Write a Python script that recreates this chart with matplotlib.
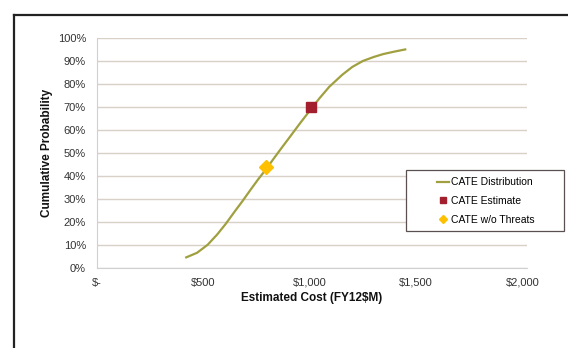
import matplotlib
matplotlib.use('Agg')
import matplotlib.pyplot as plt
from matplotlib.lines import Line2D
from matplotlib.patches import Rectangle

plt.rcParams['font.family'] = ['Liberation Sans', 'DejaVu Sans']

# CATE distribution curve
cost = [419, 470, 520, 565, 605, 645, 683, 720, 757, 795, 830, 870, 905, 955,
        1005, 1045, 1092, 1153, 1200, 1250, 1300, 1346, 1400, 1449]
prob = [0.046, 0.066, 0.101, 0.146, 0.192, 0.243, 0.29, 0.338, 0.385, 0.43, 0.475, 0.525,
        0.568, 0.63, 0.69, 0.737, 0.788, 0.84, 0.874, 0.90, 0.917, 0.93, 0.941, 0.95]

est_cost = [1005]
est_prob = [0.70]
nothreat_cost = [795]
nothreat_prob = [0.44]

xticks = [0, 500, 1000, 1500, 2000]
xlabels = ['$-', '$500', '$1,000', '$1,500', '$2,000']
yticks = [i / 10 for i in range(11)]
ylabels = ['%d%%' % (i * 10) for i in range(11)]

fig = plt.figure(figsize=(5.68, 3.48), dpi=100)
ax = fig.add_axes([0.171, 0.23, 0.757, 0.661])

ax.plot(cost, prob, color='#a0a040', lw=1.6, solid_joinstyle='round', label='CATE Distribution')
ax.plot(est_cost, est_prob, 's', color='#a31f2e', ms=7.5, label='CATE Estimate')
ax.plot(nothreat_cost, nothreat_prob, 'D', color='#ffc000', ms=7.5, label='CATE w/o Threats')

ax.set_xlim(0, 2022)
ax.set_ylim(0, 1.0)
ax.set_xticks(xticks)
ax.set_xticklabels(xlabels)
ax.set_yticks(yticks)
ax.set_yticklabels(ylabels)
ax.tick_params(labelsize=8, colors='#333333', length=0)
ax.tick_params(axis='x', pad=7)
ax.tick_params(axis='y', pad=8)
ax.grid(axis='y', color='#d9d0c8', lw=1)
ax.set_axisbelow(True)
for s in ['top', 'right']:
    ax.spines[s].set_visible(False)
for s in ['left', 'bottom']:
    ax.spines[s].set_color('#d0d0d0')

ax.set_xlabel('Estimated Cost (FY12$M)', fontsize=8.5, fontweight='bold', color='#111111', labelpad=3)
ax.set_ylabel('Cumulative Probability', fontsize=8.5, fontweight='bold', color='#111111', labelpad=3)

# legend box drawn separately so the entries sit centred in it
fig.add_artist(Rectangle((406 / 568, 1 - 231 / 348), 158 / 568, 61 / 348,
                         fill=True, facecolor='white', edgecolor='#5a5050', lw=0.9))
leg = fig.legend(loc='center', bbox_to_anchor=(486 / 568, 1 - 201 / 348), fontsize=7.5,
                 frameon=False, labelspacing=0.85, handlelength=1.2, handletextpad=0.2,
                 markerscale=0.55)

# outer frame (top and left edges visible)
fig.add_artist(Line2D([14 / 568, 1], [1 - 15 / 348] * 2, color='#222222', lw=1.6))
fig.add_artist(Line2D([14 / 568] * 2, [0, 1 - 15 / 348], color='#222222', lw=1.6))

fig.savefig('out.png', dpi=100)
